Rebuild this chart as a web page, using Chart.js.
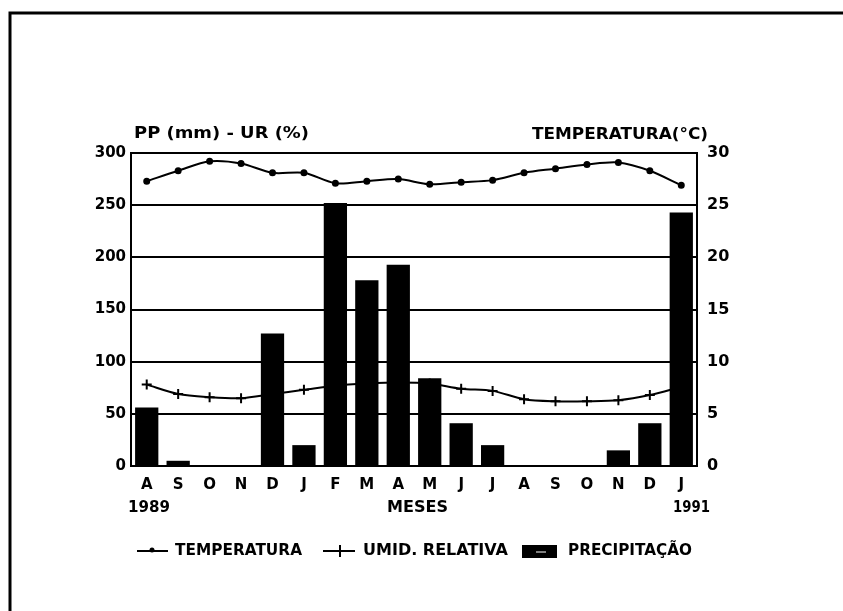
<!DOCTYPE html>
<html>
<head>
<meta charset="utf-8">
<script src="https://cdn.jsdelivr.net/npm/chart.js@4"></script>
<style>
  html, body { margin: 0; padding: 0; background: #fff; }
  #wrap { width: 843px; height: 611px; }
</style>
</head>
<body>
<div id="wrap"><canvas id="clima" width="843" height="611"></canvas></div>
<script>
// meses de ago/1989 a jan/1991
const meses = ['A', 'S', 'O', 'N', 'D', 'J', 'F', 'M', 'A', 'M', 'J', 'J', 'A', 'S', 'O', 'N', 'D', 'J'];
// precipitação (mm) - eixo esquerdo
const precipitacao = [56, 5, 0, 0, 127, 20, 252, 178, 193, 84, 41, 20, 0, 0, 0, 15, 41, 243];
// umidade relativa (%) - eixo esquerdo
const umidade = [78, 69, 66, 65, 69, 73, 77, 79, 80, 79, 74, 72, 64, 62, 62, 63, 68, 76];
// temperatura (°C) - eixo direito
const temperatura = [27.3, 28.3, 29.2, 29.0, 28.1, 28.1, 27.1, 27.3, 27.5, 27.0, 27.2, 27.4, 28.1, 28.5, 28.9, 29.1, 28.3, 26.9];
const ticksEsq = [0, 50, 100, 150, 200, 250, 300];
const ticksDir = [0, 5, 10, 15, 20, 25, 30];

const FONTE = '"DejaVu Sans", "Liberation Sans", sans-serif';

// escreve texto esticado/comprimido para caber numa largura
function textoAjustado(ctx, txt, x0, x1, y, size) {
    ctx.save();
    ctx.font = 'bold ' + size + 'px ' + FONTE;
    ctx.textBaseline = 'middle';
    ctx.textAlign = 'left';
    const w = ctx.measureText(txt).width;
    ctx.translate(x0, y);
    ctx.scale((x1 - x0) / w, 1);
    ctx.fillStyle = '#000';
    ctx.fillText(txt, 0, 0);
    ctx.restore();
}

const decoracao = {
    id: 'decoracao',
    afterDraw(chart) {
        const ctx = chart.ctx;
        ctx.save();
        // moldura
        ctx.strokeStyle = '#000';
        ctx.lineWidth = 3;
        ctx.beginPath();
        ctx.moveTo(843, 13);
        ctx.lineTo(10, 13);
        ctx.lineTo(10, 611);
        ctx.stroke();

        // títulos dos eixos
        textoAjustado(ctx, 'PP (mm) - UR (%)', 134, 309, 134, 16);
        textoAjustado(ctx, 'TEMPERATURA(°C)', 532, 708, 135, 16);
        textoAjustado(ctx, '1989', 128, 170, 508, 16);
        textoAjustado(ctx, 'MESES', 387, 448, 508, 16);
        textoAjustado(ctx, '1991', 673, 710, 508, 16);

        // legenda
        const ly = 551;
        ctx.lineWidth = 2;
        ctx.beginPath();
        ctx.moveTo(137, ly); ctx.lineTo(168, ly);
        ctx.stroke();
        ctx.beginPath();
        ctx.arc(152, ly - 1, 2.5, 0, Math.PI * 2);
        ctx.fill();
        textoAjustado(ctx, 'TEMPERATURA', 175, 302, ly, 15);

        ctx.beginPath();
        ctx.moveTo(323, ly); ctx.lineTo(355, ly);
        ctx.moveTo(340, ly - 6); ctx.lineTo(340, ly + 6);
        ctx.stroke();
        textoAjustado(ctx, 'UMID. RELATIVA', 363, 508, ly, 15);

        ctx.fillRect(522, 545, 35, 13);
        ctx.strokeStyle = '#fff';
        ctx.lineWidth = 1;
        ctx.beginPath();
        ctx.moveTo(536, 552); ctx.lineTo(546, 552);
        ctx.stroke();
        textoAjustado(ctx, 'PRECIPITAÇÃO', 568, 692, ly, 15);
        ctx.restore();
    }
};

new Chart(document.getElementById('clima'), {
    type: 'bar',
    data: {
        labels: meses,
        datasets: [
            {
                type: 'bar',
                label: 'PRECIPITAÇÃO',
                data: precipitacao,
                backgroundColor: '#000',
                borderWidth: 0,
                categoryPercentage: 1,
                barPercentage: 0.74,
                yAxisID: 'y',
                order: 0
            },
            {
                type: 'line',
                label: 'UMID. RELATIVA',
                data: umidade,
                borderColor: '#000',
                borderWidth: 2,
                tension: 0.3,
                pointStyle: 'cross',
                pointRadius: 5,
                pointBorderWidth: 2,
                pointBorderColor: '#000',
                yAxisID: 'y',
                order: 2
            },
            {
                type: 'line',
                label: 'TEMPERATURA',
                data: temperatura,
                borderColor: '#000',
                borderWidth: 2,
                tension: 0.3,
                pointStyle: 'circle',
                pointRadius: 2.5,
                pointBackgroundColor: '#000',
                pointBorderColor: '#000',
                yAxisID: 'y1',
                order: 1
            }
        ]
    },
    options: {
        responsive: false,
        animation: false,
        devicePixelRatio: 1,
        layout: { padding: { top: 153, left: 0, right: 0, bottom: 0 } },
        plugins: {
            legend: { display: false },
            title: { display: false },
            tooltip: { enabled: false }
        },
        scales: {
            x: {
                grid: { display: false },
                border: { display: true, color: '#000', width: 2 },
                ticks: {
                    color: '#000',
                    padding: 2,
                    maxRotation: 0,
                    autoSkip: false,
                    font: { family: FONTE, size: 15, weight: 'bold' }
                },
                afterFit(scale) { scale.height = 145; }
            },
            y: {
                position: 'left',
                min: 0,
                max: 300,
                afterBuildTicks(scale) { scale.ticks = ticksEsq.map(v => ({ value: v })); },
                grid: { color: '#000', lineWidth: 2, drawTicks: false },
                border: { display: true, color: '#000', width: 2 },
                ticks: {
                    color: '#000',
                    padding: 5,
                    font: { family: FONTE, size: 15, weight: 'bold' }
                },
                afterFit(scale) { scale.width = 131; }
            },
            y1: {
                position: 'right',
                min: 0,
                max: 30,
                afterBuildTicks(scale) { scale.ticks = ticksDir.map(v => ({ value: v })); },
                grid: { drawOnChartArea: false, drawTicks: false },
                border: { display: true, color: '#000', width: 2 },
                ticks: {
                    color: '#000',
                    padding: 10,
                    font: { family: FONTE, size: 16, weight: 'bold' }
                },
                afterFit(scale) { scale.width = 146; }
            }
        }
    },
    plugins: [decoracao]
});
</script>
</body>
</html>
